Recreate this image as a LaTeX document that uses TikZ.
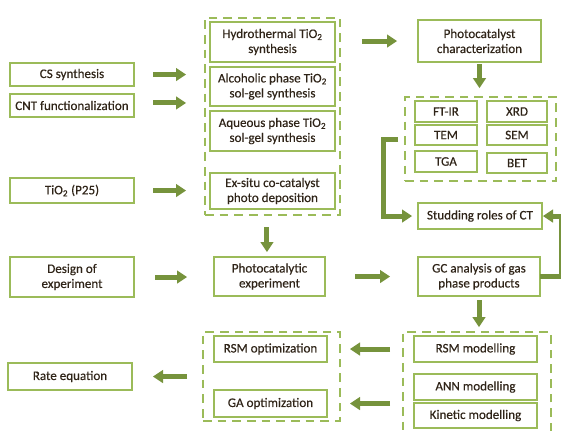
\documentclass[tikz,border=0pt]{standalone}
\usepackage{fontspec}
\setmainfont[FakeBold=0.4]{Carlito}
\usetikzlibrary{arrows.meta}
\definecolor{bord}{HTML}{9BBB59}
\definecolor{arr}{HTML}{76933C}
\definecolor{txt}{HTML}{2F2418}
\begin{document}
\begin{tikzpicture}[x=0.75pt,y=-0.75pt,
  box/.style 2 args={draw=bord, line width=1.5pt, inner sep=0pt, outer sep=0pt,
    minimum width=#1*0.75pt, minimum height=#2*0.75pt, align=center, text=txt,
    font=\fontsize{9.8}{11.25}\selectfont},
  grp/.style 2 args={draw=bord, line width=1.9pt, dash pattern=on 6.5pt off 4.5pt,
    inner sep=0pt, outer sep=0pt, minimum width=#1*0.75pt, minimum height=#2*0.75pt},
  barrow/.style={draw=arr, line width=3.75pt, line join=miter,
    -{Triangle[width=10pt,length=7.5pt,line width=0pt]}}]
\useasboundingbox (0,0) rectangle (561,430);
\clip (0,0) rectangle (561,430);
% left column
\node[box={124}{23}] (cs) at (72,74.5) {CS synthesis};
\node[box={124}{23}] (cnt) at (72,105.5) {CNT functionalization};
\node[box={124}{25}] (p25) at (72,190.5) {TiO\textsubscript{2} (P25)};
\node[box={124}{40}] (doe) at (72,277) {Design of\\experiment};
\node[box={124}{27}] (rate) at (70,376.5) {Rate equation};
% synthesis group
\node[grp={135}{197}] (g1) at (272.5,116.5) {};
\node[box={125}{40}] (hyd) at (272.5,42) {Hydrothermal TiO\textsubscript{2}\\synthesis};
\node[box={125}{39}] (alc) at (272.5,86.5) {Alcoholic phase TiO\textsubscript{2}\\sol-gel synthesis};
\node[box={125}{40}] (aq) at (272.5,131) {Aqueous phase TiO\textsubscript{2}\\sol-gel synthesis};
\node[box={125}{36}] (ex) at (272.5,191) {Ex-situ co-catalyst\\photo deposition};
\node[box={111}{39}] (ph) at (269.5,276.5) {Photocatalytic\\experiment};
% characterization
\node[box={123}{42}] (char) at (479.5,41) {Photocatalyst\\characterization};
\node[grp={151}{84}] (g2) at (480.5,139) {};
\node[box={62}{21}] (ftir) at (446,111.5) {FT-IR};
\node[box={60}{21}] (xrd) at (517,111.5) {XRD};
\node[box={62}{20}] (tem) at (446,135) {TEM};
\node[box={60}{20}] (sem) at (517,135) {SEM};
\node[box={62}{21}] (tga) at (446,161.5) {TGA};
\node[box={60}{20}] (bet) at (517,163) {BET};
\node[box={124}{26}] (study) at (480,216) {Studding roles of CT};
\node[box={122}{39}] (gc) at (479,276.5) {GC analysis of gas\\phase products};
% modelling
\node[grp={148}{113}] (g3) at (477,388.5) {};
\node[box={123}{26}] (rsmm) at (475.5,349) {RSM modelling};
\node[box={123}{26}] (ann) at (475.5,387) {ANN modelling};
\node[box={123}{25}] (kin) at (475.5,415.5) {Kinetic modelling};
% optimization
\node[grp={137}{89}] (g4) at (271.5,376.5) {};
\node[box={113}{26}] (rsmo) at (270.5,349) {RSM optimization};
\node[box={113}{27}] (gao) at (270.5,403.5) {GA optimization};
% arrows
\draw[barrow, shorten <=14.25pt, shorten >=14.25pt] (cs) -- (cs -| g1.west);
\draw[barrow, shorten <=14.25pt, shorten >=14.25pt] ([yshift=1.9pt]cnt.east) -- ([yshift=1.9pt]cnt.east -| g1.west);
\draw[barrow, shorten <=14.25pt, shorten >=14.25pt] (p25) -- (p25 -| g1.west);
\draw[barrow, shorten <=15.75pt, shorten >=20.25pt] (doe) -- (doe -| ph.west);
\draw[barrow, shorten <=16.5pt, shorten >=15.75pt] (g1.east |- char) -- (char);
\draw[barrow, shorten <=9pt, shorten >=3.75pt] ([xshift=-1.9pt]ph.north |- g1.south) -- ([xshift=-1.9pt]ph.north);
\draw[barrow, shorten <=22.5pt, shorten >=21pt] (ph) -- (gc);
\draw[barrow, shorten <=1.5pt, shorten >=6.75pt] (char) -- (char |- g2.north);
\draw[barrow, shorten <=3pt, shorten >=3.75pt] (gc) -- (gc |- g3.north);
\draw[barrow, shorten <=9.75pt, shorten >=7.5pt] (g3.west |- rsmm) -- (g4.east |- rsmm);
\draw[barrow, shorten <=9.75pt, shorten >=7.5pt] (g3.west |- gao) -- (g4.east |- gao);
\draw[barrow, shorten <=12pt, shorten >=15.75pt] (g4.west |- rate) -- (rate);
\draw[barrow, shorten <=5.25pt, shorten >=4.5pt] (g2.west) -- ++(-22,0) |- (study);
\draw[barrow, shorten >=0.75pt] (gc.east) -- ++(21.5,0) |- (study.east);
\end{tikzpicture}
\end{document}
